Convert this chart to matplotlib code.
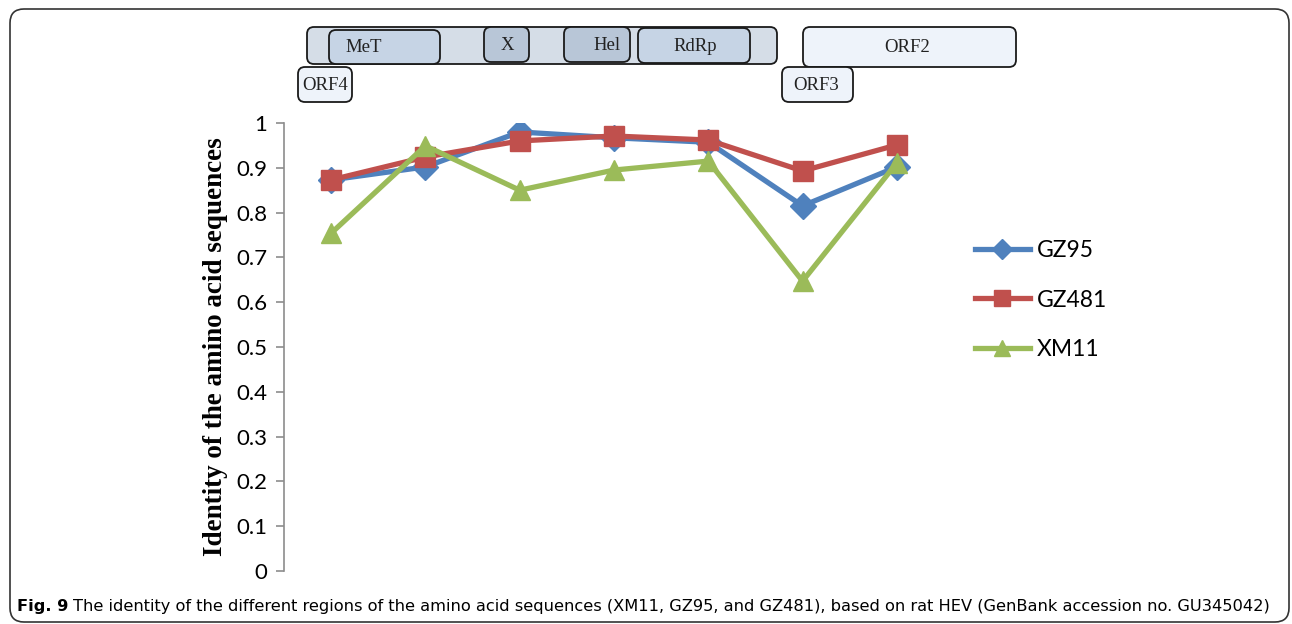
import matplotlib
matplotlib.use('Agg')
import matplotlib.pyplot as plt
from matplotlib.patches import FancyBboxPatch
from matplotlib.transforms import Affine2D

# regioni del genoma (asse x, senza etichette nel grafico)
regioni = ['ORF4', 'MeT', 'X', 'Hel', 'RdRp', 'ORF3', 'ORF2']
gz95 = [0.873, 0.902, 0.980, 0.967, 0.957, 0.815, 0.902]
gz481 = [0.873, 0.924, 0.960, 0.971, 0.962, 0.893, 0.951]
xm11 = [0.754, 0.949, 0.850, 0.895, 0.915, 0.647, 0.911]

W, H = 1292, 624
fig = plt.figure(figsize=(W / 100, H / 100), dpi=100)

# trasformazione in pixel dell'immagine (y verso il basso)
pix = Affine2D().scale(1 / 100, -1 / 100).translate(0, H / 100) + fig.dpi_scale_trans

# cornice arrotondata
fig.patches.append(FancyBboxPatch((10, 9), 1279, 613, boxstyle='round,pad=0,rounding_size=14',
                                  transform=pix, fill=False, edgecolor='#333333', linewidth=1.2))

ax = fig.add_axes([284 / W, 1 - 571 / H, 660 / W, 448 / H])
x = list(range(len(regioni)))
ax.plot(x, gz95, color='#4f81bd', linewidth=3.8, marker='D', markersize=13, label='GZ95')
ax.plot(x, gz481, color='#c0504d', linewidth=3.8, marker='s', markersize=14, label='GZ481')
ax.plot(x, xm11, color='#9bbb59', linewidth=3.8, marker='^', markersize=15, label='XM11')

ax.set_xlim(-0.5, len(regioni) - 0.5)
ax.set_ylim(0, 1)
ax.set_yticks([i / 10 for i in range(11)])
ax.set_yticklabels(['0'] + [f'{i / 10:.1f}' for i in range(1, 10)] + ['1'])
ax.set_xticks([])
for s in ['top', 'right', 'bottom']:
    ax.spines[s].set_visible(False)
ax.spines['left'].set_color('#8c8c8c')
ax.spines['left'].set_linewidth(1.2)
ax.tick_params(axis='y', length=6, width=1.2, color='#8c8c8c', labelsize=16, pad=6)
for t in ax.get_yticklabels():
    t.set_fontfamily(['Lato', 'DejaVu Sans'])
ax.set_ylabel('Identity of the amino acid sequences', family='Liberation Serif',
              fontweight='bold', fontsize=19.5, labelpad=6)

leg = ax.legend(loc='center left', bbox_to_anchor=(954 / W, 1 - 300 / H), bbox_transform=fig.transFigure,
                frameon=False, prop={'family': 'Lato', 'size': 16.5}, handlelength=2.4,
                labelspacing=1.25, handletextpad=0.3, markerscale=0.8)

# diagramma delle ORF in alto
box_x0 = [307, 329, 484, 564, 638, 298, 803, 782]
box_y0 = [27, 30, 27, 27, 28, 67, 27, 67]
box_x1 = [777, 440, 529, 630, 750, 352, 1016, 853]
box_y1 = [64, 64, 62, 62, 63, 102, 67, 102]
box_col = ['#d5dde7', '#c6d4e5', '#b8c6d7', '#b8c6d7', '#c6d4e5', '#eef3fa', '#eef3fa', '#eef3fa']
box_txt = ['', 'MeT', 'X', 'Hel', 'RdRp', 'ORF4', 'ORF2', 'ORF3']
txt_x = [0, 364, 507, 607, 695, 325, 907, 816]

for i in range(len(box_x0)):
    fig.patches.append(FancyBboxPatch((box_x0[i], box_y0[i]), box_x1[i] - box_x0[i], box_y1[i] - box_y0[i],
                                      boxstyle='round,pad=0,rounding_size=7', transform=pix,
                                      facecolor=box_col[i], edgecolor='#1a1a1a', linewidth=1.3))
    if box_txt[i]:
        fig.text(txt_x[i], (box_y0[i] + box_y1[i]) / 2 + 1, box_txt[i], transform=pix, ha='center', va='center',
                 family='Liberation Serif', fontsize=13.5, color='#222222')

# didascalia
cap_fam = ['Liberation Sans Narrow', 'DejaVu Sans Condensed', 'DejaVu Sans']
t1 = fig.text(17, 606, 'Fig. 9', transform=pix, ha='left', va='center', family=cap_fam,
              fontweight='bold', fontsize=11.7)
fig.canvas.draw()
bb = t1.get_window_extent()
fig.text(bb.x1 + 5, H - 606, 'The identity of the different regions of the amino acid sequences (XM11, GZ95, and GZ481), '
         'based on rat HEV (GenBank accession no. GU345042)', transform=None, ha='left', va='center',
         family=cap_fam, fontsize=11.7)

fig.savefig('out.png', dpi=100)
